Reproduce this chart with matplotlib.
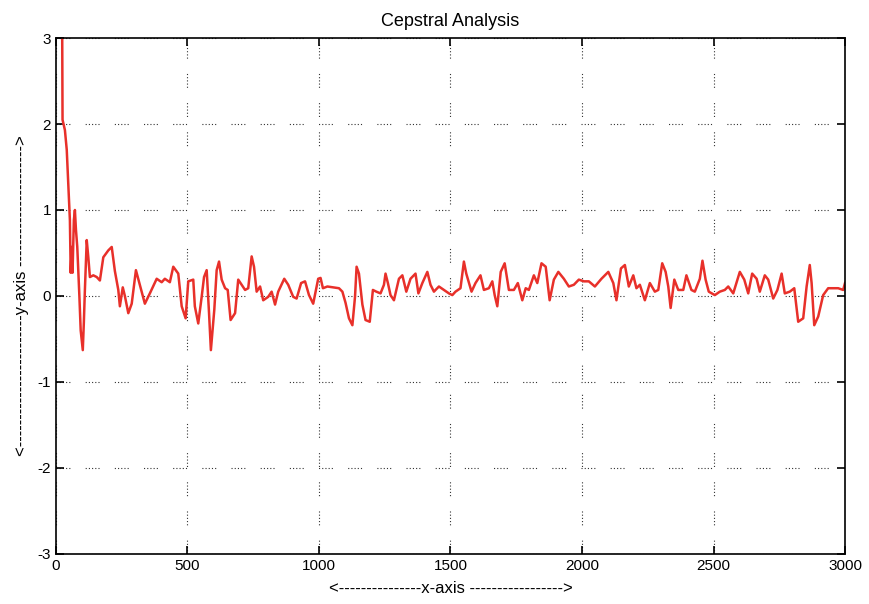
import matplotlib
matplotlib.use("Agg")
import matplotlib.pyplot as plt

plt.rcParams['font.family'] = ['Liberation Sans', 'DejaVu Sans']
plt.rcParams['axes.unicode_minus'] = False
plt.rcParams['lines.scale_dashes'] = False

# cepstrum samples
quefrency = [20, 25, 34, 41, 46, 53, 56, 60, 63, 68, 72, 76, 81, 89, 94, 102, 106, 110,
             117, 123, 129, 142, 155, 167, 180, 199, 212, 224, 237, 243, 254, 262, 275,
             288, 304, 317, 338, 357, 383, 402, 414, 433, 446, 465, 478, 493, 503, 522,
             528, 541, 554, 563, 573, 582, 589, 602, 611, 620, 630, 643, 653, 664, 681,
             693, 706, 719, 731, 744, 753, 763, 776, 788, 807, 820, 833, 845, 868, 883,
             902, 915, 932, 947, 962, 978, 997, 1006, 1015, 1032, 1076, 1089, 1101, 1114,
             1127, 1137, 1143, 1152, 1165, 1177, 1193, 1205, 1218, 1234, 1247, 1253, 1262,
             1272, 1285, 1304, 1317, 1332, 1348, 1367, 1378, 1393, 1412, 1424, 1437, 1456,
             1475, 1494, 1507, 1519, 1538, 1551, 1560, 1580, 1595, 1614, 1627, 1646, 1659,
             1668, 1678, 1691, 1706, 1722, 1741, 1756, 1773, 1786, 1798, 1817, 1830, 1846,
             1862, 1877, 1893, 1910, 1931, 1950, 1969, 1988, 2007, 2026, 2049, 2074, 2100,
             2119, 2131, 2148, 2163, 2178, 2195, 2207, 2220, 2239, 2258, 2277, 2290, 2305,
             2318, 2328, 2337, 2351, 2366, 2385, 2397, 2416, 2429, 2448, 2458, 2470, 2482,
             2505, 2524, 2543, 2556, 2575, 2600, 2617, 2632, 2647, 2664, 2676, 2695, 2708,
             2727, 2743, 2759, 2771, 2790, 2807, 2822, 2841, 2854, 2866, 2873, 2883, 2898,
             2917, 2936, 2974, 2993, 3000]
amplitude = [6.0, 2.05, 1.93, 1.70, 1.35, 0.88, 0.27, 0.57, 0.27, 0.88, 1.0, 0.77, 0.57,
             0.0, -0.4, -0.63, -0.31, 0.07, 0.65, 0.45, 0.22, 0.24, 0.22, 0.18, 0.45, 0.53,
             0.57, 0.29, 0.07, -0.12, 0.1, 0.0, -0.2, -0.09, 0.3, 0.15, -0.09, 0.03, 0.2,
             0.16, 0.2, 0.16, 0.34, 0.26, -0.12, -0.26, 0.17, 0.19, -0.12, -0.32, -0.01,
             0.22, 0.30, -0.2, -0.63, -0.16, 0.30, 0.40, 0.19, 0.09, 0.07, -0.28, -0.2,
             0.19, 0.13, 0.07, 0.09, 0.46, 0.34, 0.05, 0.11, -0.05, -0.01, 0.05, -0.1, 0.05,
             0.2, 0.13, -0.01, -0.03, 0.15, 0.17, 0.01, -0.09, 0.2, 0.21, 0.09, 0.11, 0.09,
             0.05, -0.08, -0.26, -0.34, -0.01, 0.34, 0.26, -0.1, -0.28, -0.3, 0.07, 0.05,
             0.03, 0.13, 0.26, 0.15, 0.01, -0.05, 0.2, 0.24, 0.05, 0.2, 0.26, 0.03, 0.15,
             0.28, 0.13, 0.05, 0.11, 0.07, 0.03, 0.01, 0.05, 0.09, 0.40, 0.26, 0.05, 0.15,
             0.24, 0.07, 0.09, 0.17, 0.01, -0.12, 0.28, 0.38, 0.07, 0.07, 0.15, -0.05, 0.09,
             0.07, 0.24, 0.15, 0.38, 0.34, -0.05, 0.19, 0.28, 0.2, 0.11, 0.13, 0.19, 0.17,
             0.17, 0.11, 0.2, 0.28, 0.15, -0.05, 0.32, 0.36, 0.11, 0.24, 0.09, 0.13, -0.05,
             0.15, 0.05, 0.07, 0.38, 0.28, 0.11, -0.14, 0.19, 0.07, 0.07, 0.24, 0.07, 0.05,
             0.2, 0.41, 0.19, 0.05, 0.01, 0.05, 0.07, 0.11, 0.03, 0.28, 0.19, 0.03, 0.26,
             0.2, 0.05, 0.24, 0.19, -0.03, 0.07, 0.26, 0.03, 0.05, 0.09, -0.3, -0.26, 0.11,
             0.36, 0.15, -0.34, -0.24, 0.01, 0.09, 0.09, 0.07, 0.15]

xticks = [0, 500, 1000, 1500, 2000, 2500, 3000]
yticks = [-3, -2, -1, 0, 1, 2, 3]

fig = plt.figure(figsize=(8.69, 6.04), dpi=100)
ax = fig.add_axes([0.0644, 0.083, 0.908, 0.854])

ax.plot(quefrency, amplitude, color='#e8302a', linewidth=1.8)

ax.set_xlim(0, 3000)
ax.set_ylim(-3, 3)
ax.set_xticks(xticks)
ax.set_yticks(yticks)
# matlab style grid: little groups of dots
ax.grid(True, color='#333333', linewidth=0.8,
        linestyle=(0, (0.8, 1.5, 0.8, 1.5, 0.8, 1.5, 0.8, 1.5, 0.8, 11)))
ax.tick_params(direction='in', length=6, width=1.2, top=True, right=True,
               labelsize=11, colors='black')
for s in ax.spines.values():
    s.set_linewidth(1.2)

ax.set_title('Cepstral Analysis', fontsize=13, pad=9)
ax.set_xlabel('<---------------x-axis ----------------->', fontsize=12, labelpad=6)
ax.set_ylabel('<------------------------y-axis ---------------------->', fontsize=12, labelpad=6)

plt.savefig('out.png', dpi=100)
